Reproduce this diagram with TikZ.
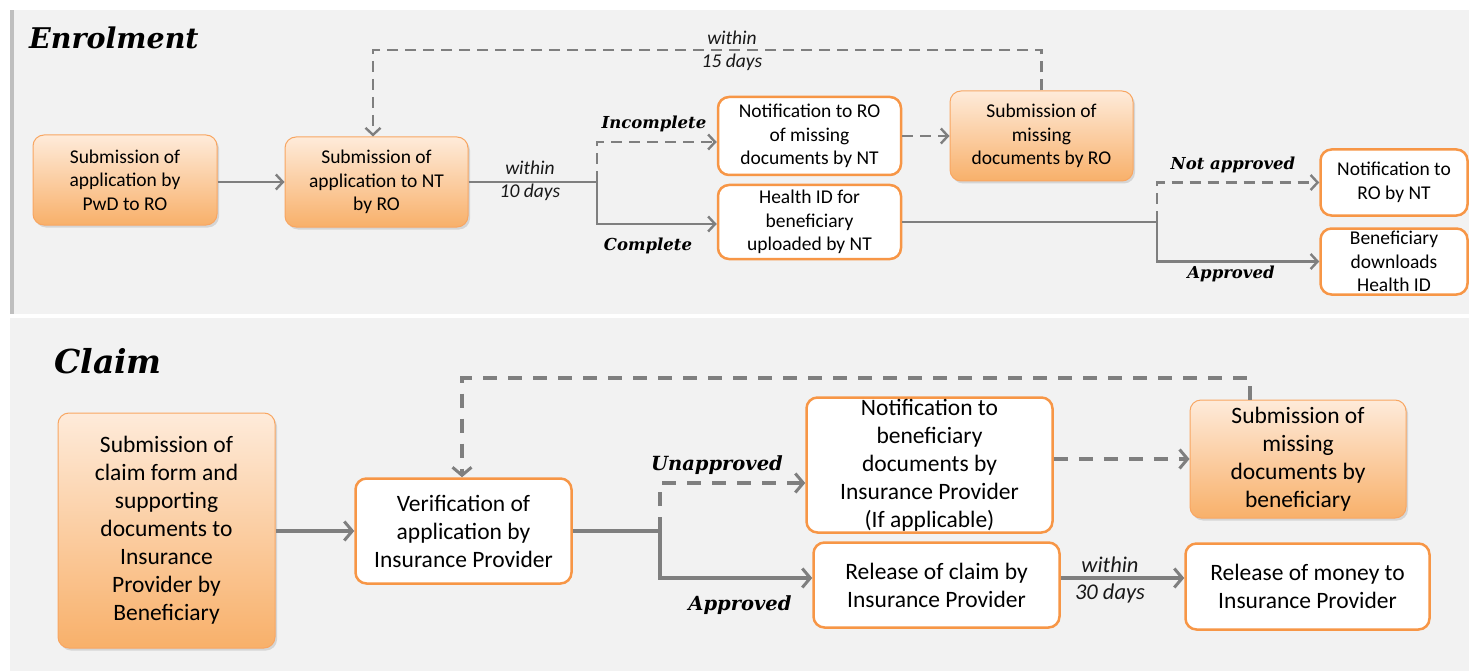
\documentclass[tikz,border=0pt]{standalone}
\usepackage{fontspec}
\setmainfont{Carlito}
\newfontfamily\labfont{DejaVu Serif}
\usetikzlibrary{arrows.meta,shadows,calc}
\definecolor{bor}{HTML}{F79646}
\definecolor{otop}{HTML}{FEEBDA}
\definecolor{obot}{HTML}{F8B06A}
\definecolor{lin}{HTML}{7F7F7F}
\definecolor{bg}{HTML}{F2F2F2}
\definecolor{barc}{HTML}{BFBFBF}
\tikzset{
  basebox/.style={rounded corners=11pt, align=center, inner sep=1pt, text=black},
  obox/.style={basebox, draw=bor!85, line width=1pt, top color=otop, bottom color=obot,
    drop shadow={opacity=0.25, shadow xshift=2pt, shadow yshift=-2.5pt}},
  wbox/.style={basebox, draw=bor, line width=2.5pt, fill=white},
  efont/.style={font=\fontsize{19.5}{23.5}\selectfont},
  cfont/.style={font=\fontsize{23.5}{28}\selectfont},
  econn/.style={draw=lin, line width=2.8pt, -{Straight Barb[length=7pt,width=15pt,line width=2.4pt]}},
  cconn/.style={draw=lin, line width=3.6pt, -{Straight Barb[length=8pt,width=19pt,line width=3pt]}},
  eline/.style={draw=lin, line width=2.8pt},
  cline/.style={draw=lin, line width=3.6pt},
  edash/.style={dash pattern=on 11pt off 7pt},
  cdash/.style={dash pattern=on 14pt off 11pt},
  elab/.style={font=\labfont\bfseries\itshape\fontsize{16.5}{20}\selectfont},
  clab/.style={font=\labfont\bfseries\itshape\fontsize{19.5}{24}\selectfont},
  ewithin/.style={align=center, font=\itshape\fontsize{19.5}{23}\selectfont, text=black!90},
  cwithin/.style={align=center, font=\itshape\fontsize{22.5}{27}\selectfont, text=black!90},
}
\begin{document}
\begin{tikzpicture}[x=1pt,y=-1pt]
\useasboundingbox (0,0) rectangle (1469,671);
\fill[white] (0,0) rectangle (1469,671);
\fill[bg] (10,10) rectangle (1469,314);
\fill[bg] (10,318) rectangle (1469,671);
\fill[barc] (10,10) rectangle (14,314);

% ---------- Enrolment ----------
\node[font=\labfont\bfseries\itshape\fontsize{28.5}{34}\selectfont, anchor=west, inner sep=0pt] (tE) at (29,38) {Enrolment};

\node[obox, efont, minimum width=184pt, minimum height=90pt] (A) at (125,180) {Submission of\\application by\\PwD to RO};
\node[obox, efont, minimum width=183pt, minimum height=90pt] (B) at (376.5,182) {Submission of\\application to NT\\by RO};
\node[wbox, efont, minimum width=183pt, minimum height=78pt] (C) at (809.5,136) {Notification to RO\\of missing\\documents by NT};
\node[wbox, efont, minimum width=183pt, minimum height=74pt] (D) at (809.5,222) {Health ID for\\beneficiary\\uploaded by NT};
\node[obox, efont, minimum width=183pt, minimum height=90pt] (E) at (1041.5,136) {Submission of\\missing\\documents by RO};
\node[wbox, efont, minimum width=147pt, minimum height=66pt] (F) at (1394,182.5) {Notification to\\RO by NT};
\node[wbox, efont, minimum width=147pt, minimum height=66pt] (G) at (1394,261.5) {Beneficiary\\downloads\\Health ID};

\coordinate (j1) at (597,182);
\coordinate (j2) at (1157,222);
\coordinate (t1) at (1041.5,50);

\draw[econn] (A.east |- B.west) -- (B.west);
\draw[eline] (B.east) -- (j1);
\draw[econn, edash] (j1) |- ([yshift=-6pt]C.west);
\draw[econn] (j1) |- ([yshift=-2pt]D.west);
\draw[econn, edash] (C.east) -- (E.west);
\draw[econn, edash] (E.north) -- (t1) -| ([xshift=-3.5pt]B.north);
\draw[eline] (D.east) -- (j2);
\draw[econn, edash] (j2) |- (F.west);
\draw[econn] (j2) |- (G.west);

\node[ewithin] (w10) at (530,181) {within\\10 days};
\node[ewithin] (w15) at (732,51) {within\\15 days};
\node[elab] (lInc) at (654,124) {Incomplete};
\node[elab] (lCom) at (648,246) {Complete};
\node[elab] (lNap) at (1233,165) {Not approved};
\node[elab] (lApp) at (1231,274) {Approved};

% ---------- Claim ----------
\node[font=\labfont\bfseries\itshape\fontsize{33}{40}\selectfont, anchor=west, inner sep=0pt] (tC) at (54,361) {Claim};

\node[obox, cfont, minimum width=217pt, minimum height=235pt] (H) at (166.5,530.5) {Submission of\\claim form and\\supporting\\documents to\\Insurance\\Provider by\\Beneficiary};
\node[wbox, cfont, minimum width=216pt, minimum height=105pt] (I) at (463.5,531) {Verification of\\application by\\Insurance Provider};
\node[wbox, cfont, minimum width=246pt, minimum height=135pt] (J) at (929.5,465) {Notification to\\beneficiary\\documents by\\Insurance Provider\\(If applicable)};
\node[wbox, cfont, minimum width=246pt, minimum height=85pt] (K) at (936.5,585) {Release of claim by\\Insurance Provider};
\node[obox, cfont, minimum width=216pt, minimum height=118pt] (L) at (1298,459) {Submission of\\missing\\documents by\\beneficiary};
\node[wbox, cfont, minimum width=244pt, minimum height=86pt] (M) at (1307.5,586.5) {Release of money to\\Insurance Provider};

\coordinate (j3) at (660,531);
\coordinate (t2) at (1250,378);

\draw[cconn] (H.east |- I.west) -- (I.west);
\draw[cline] (I.east) -- (j3);
\draw[cconn, cdash] (j3) |- ([yshift=-18pt]J.west);
\draw[cconn] (j3) |- ([yshift=7pt]K.west);
\draw[cconn, cdash] (L.west -| J.east) -- (L.west);
\draw[cconn] ([yshift=7pt]K.east) -- ([yshift=8.5pt]M.west);
\draw[cconn, cdash] ([xshift=-48pt]L.north) -- (t2) -| ([xshift=-1.5pt]I.north);

\node[cwithin] (w30) at (1110,580) {within\\30 days};
\node[clab] (lUna) at (717,465) {Unapproved};
\node[clab] (lApp2) at (740,605) {Approved};
\end{tikzpicture}
\end{document}
